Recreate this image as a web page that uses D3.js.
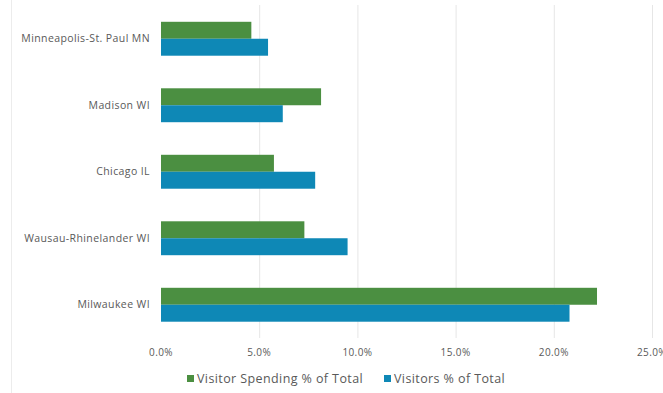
<!DOCTYPE html>
<html><head><meta charset="utf-8">
<script src="https://cdn.jsdelivr.net/npm/d3@7"></script>
<style>body{margin:0;background:#fff}svg{display:block}</style>
</head><body>
<script>
const categories = ["Minneapolis-St. Paul MN","Madison WI","Chicago IL","Wausau-Rhinelander WI","Milwaukee WI"];
const spending = [4.6, 8.15, 5.75, 7.3, 22.2];
const visitors = [5.45, 6.2, 7.85, 9.5, 20.8];
const seriesNames = ["Visitor Spending % of Total","Visitors % of Total"];
const ticks = [0,5,10,15,20,25];
const colors = ["#4b8f41","#0e88b6"];

const W=663,H=393;
const svg=d3.select("body").append("svg").attr("width",W).attr("height",H);
const font="'Open Sans', 'Noto Sans', sans-serif";

svg.append("line").attr("x1",11.5).attr("x2",11.5).attr("y1",0).attr("y2",H).attr("stroke","#ececec");

const x=d3.scaleLinear().domain([0,25]).range([161,652]);
const y=d3.scaleBand().domain(categories).range([5.5,338]).paddingInner(0.49).paddingOuter(0.245);
const sub=d3.scaleBand().domain([0,1]).range([0,y.bandwidth()]);

svg.append("g").selectAll("line").data(ticks.slice(1)).join("line")
 .attr("x1",d=>x(d)+0.5).attr("x2",d=>x(d)+0.5).attr("y1",5).attr("y2",338)
 .attr("stroke","#e6e6e6");

const g=svg.append("g");
categories.forEach((c,i)=>{
  [spending[i],visitors[i]].forEach((v,j)=>{
    g.append("rect").attr("x",x(0)).attr("y",y(c)+sub(j)).attr("width",x(v)-x(0))
     .attr("height",sub.bandwidth()).attr("fill",colors[j]);
  });
});

svg.append("g").selectAll("text").data(categories).join("text")
 .attr("x",150).attr("y",d=>y(d)+y.bandwidth()/2).attr("dy","0.35em")
 .attr("text-anchor","end").attr("font-family",font).attr("font-size",10.5).attr("letter-spacing",0.4)
 .attr("fill","#595959").text(d=>d);

svg.append("g").selectAll("text").data(ticks).join("text")
 .attr("x",d=>x(d)).attr("y",356).attr("text-anchor","middle")
 .attr("font-family",font).attr("font-size",10).attr("letter-spacing",0.4).attr("fill","#595959").text(d=>d.toFixed(1)+"%");

const leg=[{x:187},{x:384}];
seriesNames.forEach((n,i)=>{
  svg.append("rect").attr("x",leg[i].x).attr("y",375).attr("width",7).attr("height",7).attr("fill",colors[i]);
  svg.append("text").attr("x",leg[i].x+10).attr("y",383).attr("font-family",font).attr("font-size",12.5)
   .attr("letter-spacing",0.4).attr("fill","#595959").text(n);
});
</script>
</body></html>
